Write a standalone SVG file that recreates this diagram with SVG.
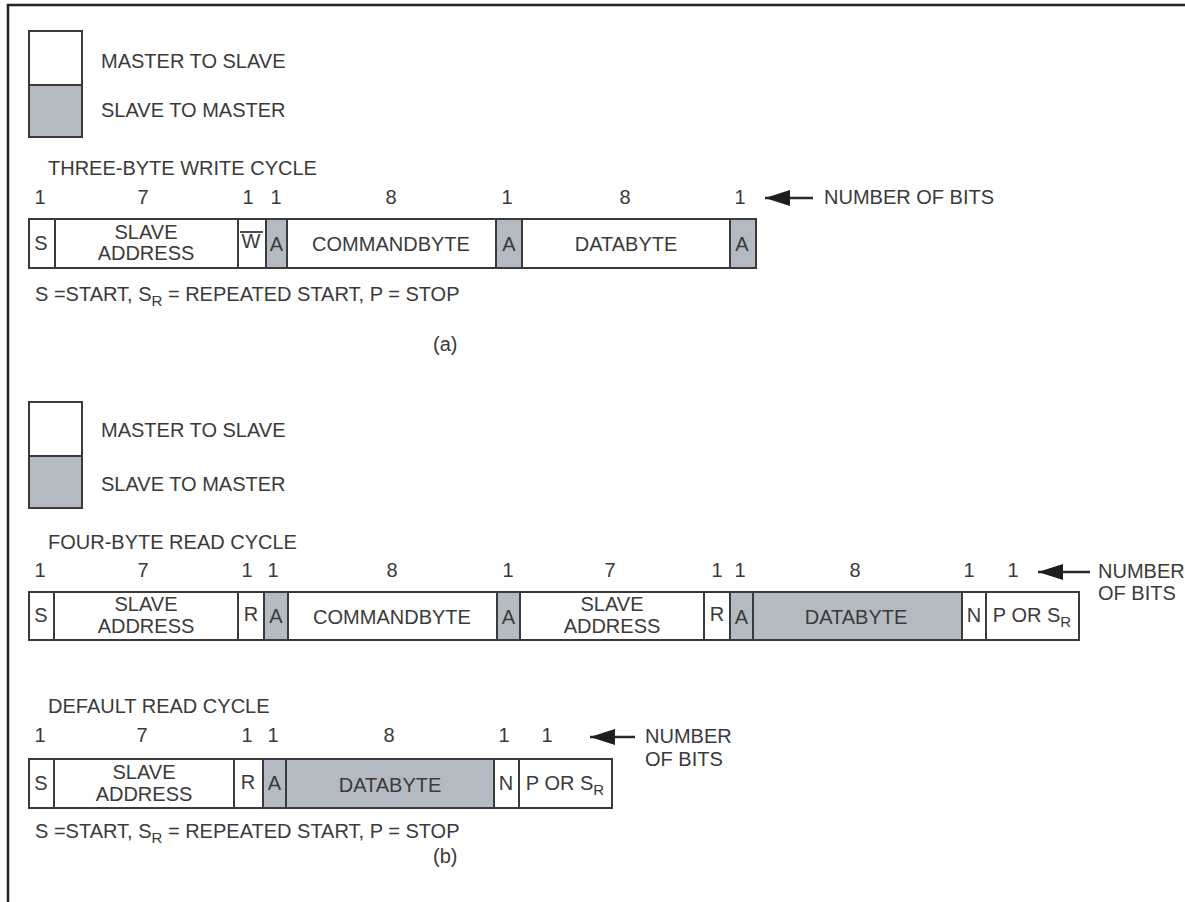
<svg xmlns="http://www.w3.org/2000/svg" width="1185" height="902" viewBox="0 0 1185 902">
<defs>
<style>
text{font-family:"Liberation Sans",Arial,sans-serif;font-size:20px;fill:#3a3a3a}
.c{text-anchor:middle}
.w{fill:#ffffff;stroke:#3a3a3a;stroke-width:2}
.g{fill:#b4bac2;stroke:#3a3a3a;stroke-width:2}
.sub{font-size:15px}
.arr{stroke:#2a2a2a;stroke-width:2.5;fill:none;marker-end:url(#ah)}
.frame{stroke:#222;stroke-width:2.5;fill:none}
</style>
<marker id="ah" viewBox="0 0 25 16" refX="25" refY="8" markerWidth="25" markerHeight="16" markerUnits="userSpaceOnUse" orient="auto">
<path d="M0,0 L25,8 L0,16 z" fill="#1e1e1e"/>
</marker>
</defs>
<rect width="1185" height="902" fill="#ffffff"/>
<path class="frame" d="M1185,5 H8 V902"/>

<!-- (a) legend -->
<g id="legend-a">
<rect class="w" x="29" y="31" width="53" height="54"/>
<rect class="g" x="29" y="85" width="53" height="52"/>
<text x="101" y="68">MASTER TO SLAVE</text>
<text x="101" y="117">SLAVE TO MASTER</text>
</g>

<text id="title-a" x="48" y="175">THREE-BYTE WRITE CYCLE</text>
<g id="bits-a">
<text class="c" x="40" y="204">1</text>
<text class="c" x="143" y="204">7</text>
<text class="c" x="248" y="204">1</text>
<text class="c" x="276" y="204">1</text>
<text class="c" x="391" y="204">8</text>
<text class="c" x="507" y="204">1</text>
<text class="c" x="625" y="204">8</text>
<text class="c" x="740" y="204">1</text>
</g>

<g id="a-s"><rect class="w" x="29" y="219" width="26" height="49"/><text class="c" x="41" y="250">S</text></g>
<g id="a-addr"><rect class="w" x="55" y="219" width="183" height="49"/><text class="c" x="146" y="239">SLAVE</text><text class="c" x="146" y="260">ADDRESS</text></g>
<g id="a-w"><rect class="w" x="238" y="219" width="28" height="49"/><text class="c" x="251" y="248">W</text><line x1="240" y1="232" x2="263" y2="232" stroke="#3a3a3a" stroke-width="1.8"/></g>
<g id="a-a1"><rect class="g" x="266" y="219" width="21" height="49"/><text class="c" x="276.5" y="251">A</text></g>
<g id="a-cmd"><rect class="w" x="287" y="219" width="209" height="49"/><text class="c" x="391" y="251">COMMANDBYTE</text></g>
<g id="a-a2"><rect class="g" x="496" y="219" width="26" height="49"/><text class="c" x="509" y="251">A</text></g>
<g id="a-data"><rect class="w" x="522" y="219" width="208" height="49"/><text class="c" x="626" y="251">DATABYTE</text></g>
<g id="a-a3"><rect class="g" x="730" y="219" width="26" height="49"/><text class="c" x="742" y="251">A</text></g>

<text id="num-a" x="824" y="204">NUMBER OF BITS</text>
<text id="key-a" x="35" y="301">S =START, S<tspan class="sub" dy="5">R</tspan><tspan dy="-5"> = REPEATED START, P = STOP</tspan></text>
<text id="cap-a" x="433" y="351">(a)</text>

<!-- (b) legend -->
<g id="legend-b">
<rect class="w" x="29" y="402" width="53" height="54"/>
<rect class="g" x="29" y="456" width="53" height="52"/>
<text x="101" y="437">MASTER TO SLAVE</text>
<text x="101" y="491">SLAVE TO MASTER</text>
</g>

<text id="title-b1" x="48" y="549">FOUR-BYTE READ CYCLE</text>
<g id="bits-b1">
<text class="c" x="40" y="577">1</text>
<text class="c" x="143" y="577">7</text>
<text class="c" x="247" y="577">1</text>
<text class="c" x="273" y="577">1</text>
<text class="c" x="392" y="577">8</text>
<text class="c" x="508" y="577">1</text>
<text class="c" x="610" y="577">7</text>
<text class="c" x="717" y="577">1</text>
<text class="c" x="740" y="577">1</text>
<text class="c" x="855" y="577">8</text>
<text class="c" x="969" y="577">1</text>
<text class="c" x="1013" y="577">1</text>
</g>

<g id="b1-s"><rect class="w" x="29" y="592" width="25" height="48"/><text class="c" x="41" y="622">S</text></g>
<g id="b1-addr1"><rect class="w" x="54" y="592" width="184" height="48"/><text class="c" x="146" y="611">SLAVE</text><text class="c" x="146" y="633">ADDRESS</text></g>
<g id="b1-r1"><rect class="w" x="238" y="592" width="26" height="48"/><text class="c" x="251" y="621">R</text></g>
<g id="b1-a1"><rect class="g" x="264" y="592" width="24" height="48"/><text class="c" x="276" y="623">A</text></g>
<g id="b1-cmd"><rect class="w" x="288" y="592" width="209" height="48"/><text class="c" x="392" y="624">COMMANDBYTE</text></g>
<g id="b1-a2"><rect class="g" x="497" y="592" width="23" height="48"/><text class="c" x="508.5" y="624">A</text></g>
<g id="b1-addr2"><rect class="w" x="520" y="592" width="184" height="48"/><text class="c" x="612" y="611">SLAVE</text><text class="c" x="612" y="633">ADDRESS</text></g>
<g id="b1-r2"><rect class="w" x="704" y="592" width="26" height="48"/><text class="c" x="717" y="621">R</text></g>
<g id="b1-a3"><rect class="g" x="730" y="592" width="23" height="48"/><text class="c" x="741.5" y="624">A</text></g>
<g id="b1-data"><rect class="g" x="753" y="592" width="209" height="48"/><text class="c" x="856" y="624">DATABYTE</text></g>
<g id="b1-n"><rect class="w" x="962" y="592" width="24" height="48"/><text class="c" x="974" y="622">N</text></g>
<g id="b1-p"><rect class="w" x="986" y="592" width="93" height="48"/><text class="c" x="1032" y="622">P OR S<tspan class="sub" dy="5">R</tspan></text></g>

<text id="num-b1" x="1098" y="578">NUMBER</text>
<text id="num-b1b" x="1098" y="600">OF BITS</text>

<text id="title-b2" x="48" y="713">DEFAULT READ CYCLE</text>
<g id="bits-b2">
<text class="c" x="40" y="742">1</text>
<text class="c" x="142" y="742">7</text>
<text class="c" x="247" y="742">1</text>
<text class="c" x="273" y="742">1</text>
<text class="c" x="389" y="742">8</text>
<text class="c" x="504" y="742">1</text>
<text class="c" x="547" y="742">1</text>
</g>

<g id="b2-s"><rect class="w" x="29" y="759" width="25" height="49"/><text class="c" x="41" y="790">S</text></g>
<g id="b2-addr"><rect class="w" x="54" y="759" width="180" height="49"/><text class="c" x="144" y="779">SLAVE</text><text class="c" x="144" y="801">ADDRESS</text></g>
<g id="b2-r"><rect class="w" x="234" y="759" width="29" height="49"/><text class="c" x="248" y="789">R</text></g>
<g id="b2-a"><rect class="g" x="263" y="759" width="23" height="49"/><text class="c" x="274.5" y="790">A</text></g>
<g id="b2-data"><rect class="g" x="286" y="759" width="208" height="49"/><text class="c" x="390" y="792">DATABYTE</text></g>
<g id="b2-n"><rect class="w" x="494" y="759" width="25" height="49"/><text class="c" x="506" y="790">N</text></g>
<g id="b2-p"><rect class="w" x="519" y="759" width="93" height="49"/><text class="c" x="565" y="790">P OR S<tspan class="sub" dy="5">R</tspan></text></g>

<text id="num-b2" x="645" y="743">NUMBER</text>
<text id="num-b2b" x="645" y="766">OF BITS</text>
<text id="key-b" x="35" y="838">S =START, S<tspan class="sub" dy="5">R</tspan><tspan dy="-5"> = REPEATED START, P = STOP</tspan></text>
<text id="cap-b" x="433" y="863">(b)</text>

<g id="connectors">
<line class="arr" x1="813" y1="198" x2="765" y2="198"/>
<line class="arr" x1="1090" y1="572" x2="1038" y2="572"/>
<line class="arr" x1="635" y1="737" x2="590" y2="737"/>
</g>
</svg>
